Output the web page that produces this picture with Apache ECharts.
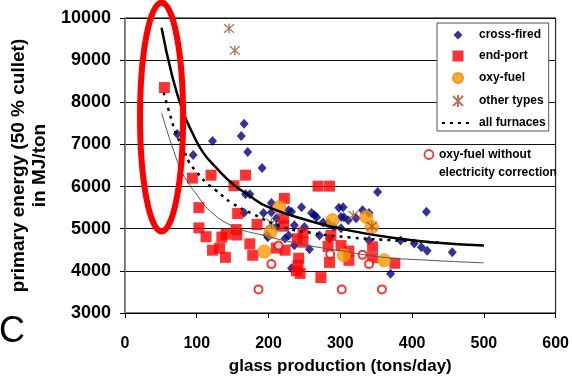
<!DOCTYPE html>
<html>
<head>
<meta charset="utf-8">
<script src="https://cdn.jsdelivr.net/npm/echarts@6/dist/echarts.min.js"></script>
<style>
  html, body { margin: 0; padding: 0; background: #fff; }
  #chart { width: 572px; height: 381px; }
</style>
</head>
<body>
<div id="chart"></div>
<script>
// glass production (tons/day) vs primary energy (MJ/ton)
const crossFired = [
  [73, 7250], [95, 6750], [122, 7080], [162, 7200], [166, 7490], [171, 6820], [191, 6440],
  [168, 5820], [174, 5820], [166, 5380], [193, 5370], [204, 5390], [204, 5610], [211, 5250],
  [198, 4850], [199, 4800], [211, 5040], [223, 4770], [228, 5440], [232, 5400], [228, 4840],
  [232, 4060], [236, 5080], [236, 4610], [246, 5510], [250, 5040], [257, 4510], [260, 5370],
  [264, 5320], [267, 5270], [271, 4840], [276, 5150], [283, 5130], [285, 4770], [291, 5040],
  [298, 5500], [301, 5280], [304, 5510], [305, 5270], [301, 5010], [311, 5200], [322, 5250],
  [331, 5440], [340, 5370], [340, 4720], [352, 5870], [370, 3930], [384, 4720], [403, 4650],
  [413, 4560], [421, 4480], [420, 5400], [456, 4440]
];
const endPort = [
  [55, 8350], [94, 6200], [103, 5500], [103, 5020], [120, 6270], [152, 6020], [168, 6270],
  [157, 5360], [184, 5100], [113, 4810], [135, 4800], [141, 4870], [155, 4980], [156, 4850],
  [122, 4490], [132, 4540], [140, 4320], [174, 4640], [178, 4370], [222, 5720], [221, 5250],
  [221, 5060], [269, 6010], [285, 6010], [248, 4900], [240, 4760], [248, 4680], [211, 4540],
  [223, 4490], [242, 4300], [241, 4130], [239, 4000], [244, 3940], [273, 3840], [283, 4580],
  [285, 4200], [301, 4600], [287, 4840], [312, 4470], [312, 4250], [345, 4570], [345, 4310],
  [376, 4180]
];
const oxyFuel = [[215, 5510], [203, 4920], [194, 4460], [289, 5200], [305, 4370], [336, 5280], [344, 5040], [361, 4250]];
const otherTypes = [[145, 9750], [153, 9230], [204, 5130], [318, 5320], [344, 5060]];
const oxyNoElec = [[186, 3560], [204, 4160], [214, 4600], [286, 4400], [302, 3560], [331, 4380], [340, 4160], [358, 3560]];

// trend lines
const fitCross = [[51, 9770], [66, 8610], [80, 7820], [94, 7270], [108, 6830], [126, 6470], [149, 6080],
  [172, 5800], [200, 5510], [260, 5170], [300, 5000], [370, 4790], [440, 4660], [500, 4600]];
const fitAll = [[54, 8230], [62, 7750], [71, 7270], [80, 6940], [90, 6560], [101, 6330], [112, 6110],
  [126, 5920], [149, 5610], [177, 5360], [218, 5050], [260, 4900], [315, 4790], [380, 4720], [440, 4670]];
const fitLow = [[51, 7750], [66, 6940], [80, 6320], [90, 6050], [96, 5900], [120, 5400], [152, 5050],
  [191, 4850], [250, 4620], [300, 4480], [356, 4330], [425, 4250], [500, 4190]];

// red ring drawn round the small furnaces: centre x, centre y, radius x, radius y (data units)
const highlight = [[51, 7650, 30, 2714]];

const xTicks = [0, 600, 100];
const yTicks = [3000, 10000, 1000];

const font = 'Arial, "Liberation Sans", sans-serif';
const asterisk = 'path://M0,0L10,10M10,0L0,10M5,-1L5,11';

// legend icons: the leading moves set a 32x12 box so the mark keeps its shape
const box = 'path://M0,0M32,12';
const legendIcons = {
  diamond: box + 'M11.5,6L16,1.5L20.5,6L16,10.5Z',
  square: box + 'M10.5,0.5L21.5,0.5L21.5,11.5L10.5,11.5Z',
  circle: box + 'M11,6A5,5 0 1 0 21,6A5,5 0 1 0 11,6Z',
  star: box + 'M11,1L21,11M21,1L11,11M16,0L16,12'
};
// hollow circle sits on the first of two text lines
const ringIcon = 'path://M0,0M10,28M0.5,4.5A4.5,4.5 0 1 0 9.5,4.5A4.5,4.5 0 1 0 0.5,4.5Z';

const chart = echarts.init(document.getElementById('chart'));
chart.setOption({
  backgroundColor: '#fff',
  animation: false,
  textStyle: { fontFamily: font },
  grid: {
    left: 122, right: 16, top: 18, bottom: 68,
    show: true, borderColor: '#000', borderWidth: 1, backgroundColor: '#fff'
  },
  xAxis: {
    type: 'value',
    min: xTicks[0], max: xTicks[1], interval: xTicks[2],
    name: 'glass production (tons/day)',
    nameLocation: 'middle',
    nameGap: 45,
    nameTextStyle: { fontSize: 17, fontWeight: 'bold', color: '#000', fontFamily: font },
    axisLine: { lineStyle: { color: '#000', width: 1 } },
    axisTick: { show: true, length: 5, lineStyle: { color: '#000' } },
    axisLabel: { margin: 23, fontSize: 16, fontWeight: 'bold', color: '#000', fontFamily: font },
    splitLine: { show: false }
  },
  yAxis: {
    type: 'value',
    min: yTicks[0], max: yTicks[1], interval: yTicks[2],
    name: 'primary energy (50 % cullet)\nin MJ/ton',
    nameLocation: 'middle',
    nameGap: 70,
    nameTextStyle: { fontSize: 19, fontWeight: 'bold', color: '#000', lineHeight: 21, fontFamily: font },
    axisLine: { show: true, lineStyle: { color: '#888', width: 1 } },
    axisTick: { show: true, length: 5, lineStyle: { color: '#000' } },
    axisLabel: {
      margin: 14, fontSize: 18, fontWeight: 'bold', color: '#000', fontFamily: font,
      formatter: (v) => String(v)
    },
    splitLine: { show: true, lineStyle: { color: '#111', width: 1 } }
  },
  legend: [{
    data: [
      { name: 'cross-fired', icon: legendIcons.diamond },
      { name: 'end-port', icon: legendIcons.square },
      { name: 'oxy-fuel', icon: legendIcons.circle },
      { name: 'other types', icon: legendIcons.star },
      { name: 'all furnaces', itemStyle: { opacity: 0 } }
    ],
    orient: 'vertical',
    left: 437, top: 23,
    itemWidth: 32, itemHeight: 12, itemGap: 9,
    padding: [6, 3, 2, 4],
    backgroundColor: '#fff',
    borderColor: '#555', borderWidth: 1,
    textStyle: { fontSize: 12, fontWeight: 'bold', color: '#000', fontFamily: font }
  }, {
    data: [{
      name: 'oxy-fuel without\nelectricity correction',
      icon: ringIcon,
      itemStyle: { color: '#fff', borderColor: '#ff0000', borderWidth: 1.8 }
    }],
    orient: 'vertical',
    left: 423, top: 146,
    itemWidth: 10, itemHeight: 28,
    padding: 0,
    textStyle: { fontSize: 12, fontWeight: 'bold', color: '#000', lineHeight: 18, fontFamily: font }
  }],
  graphic: [{
    type: 'text', left: -1, top: 314,
    style: { text: 'C', fontSize: 36, fontFamily: font, fill: '#000' }
  }],
  series: [
    {
      name: 'cross-fired', type: 'scatter', data: crossFired,
      symbol: 'diamond', symbolSize: [9, 10],
      itemStyle: { color: '#000080' }, z: 2
    },
    {
      name: 'end-port', type: 'scatter', data: endPort,
      symbol: 'rect', symbolSize: 11,
      itemStyle: { color: '#ff0000' }, z: 3
    },
    {
      name: 'oxy-fuel', type: 'scatter', data: oxyFuel,
      symbol: 'circle', symbolSize: 13,
      itemStyle: { color: '#ff9900', borderColor: '#e88a00', borderWidth: 1 }, z: 4
    },
    {
      name: 'other types', type: 'scatter', data: otherTypes,
      symbol: asterisk, symbolSize: 10,
      itemStyle: { color: 'transparent', borderColor: '#a0522d', borderWidth: 1.3 }, z: 5
    },
    {
      name: 'oxy-fuel without\nelectricity correction', type: 'scatter', data: oxyNoElec,
      symbol: 'emptyCircle', symbolSize: 8,
      itemStyle: { color: '#ff0000', borderColor: '#ff0000', borderWidth: 1.8 }, z: 5
    },
    {
      name: 'cross-fired fit', type: 'line', data: fitCross, smooth: true,
      symbol: 'none', lineStyle: { color: '#000', width: 2.5 }, z: 6
    },
    {
      name: 'all furnaces', type: 'line', data: fitAll, smooth: true,
      symbol: 'none', itemStyle: { color: '#000' },
      lineStyle: { color: '#000', width: 2.5, type: [3, 5] }, z: 6
    },
    {
      name: 'lower fit', type: 'line', data: fitLow, smooth: true,
      symbol: 'none', lineStyle: { color: '#555', width: 1 }, z: 6
    },
    {
      name: 'highlight', type: 'custom', data: highlight, clip: false, silent: true, z: 10,
      renderItem(params, api) {
        const c = api.coord([api.value(0), api.value(1)]);
        const s = api.size([api.value(2), api.value(3)]);
        const rx = s[0], ry = s[1];
        const d = `M${c[0] - rx},${c[1]} A${rx},${ry} 0 1 0 ${c[0] + rx},${c[1]} A${rx},${ry} 0 1 0 ${c[0] - rx},${c[1]} Z`;
        return {
          type: 'path',
          shape: { pathData: d },
          style: { fill: 'none', stroke: '#ff0000', lineWidth: 6 }
        };
      }
    }
  ]
});
window.addEventListener('resize', () => { chart.resize(); });
</script>
</body>
</html>
